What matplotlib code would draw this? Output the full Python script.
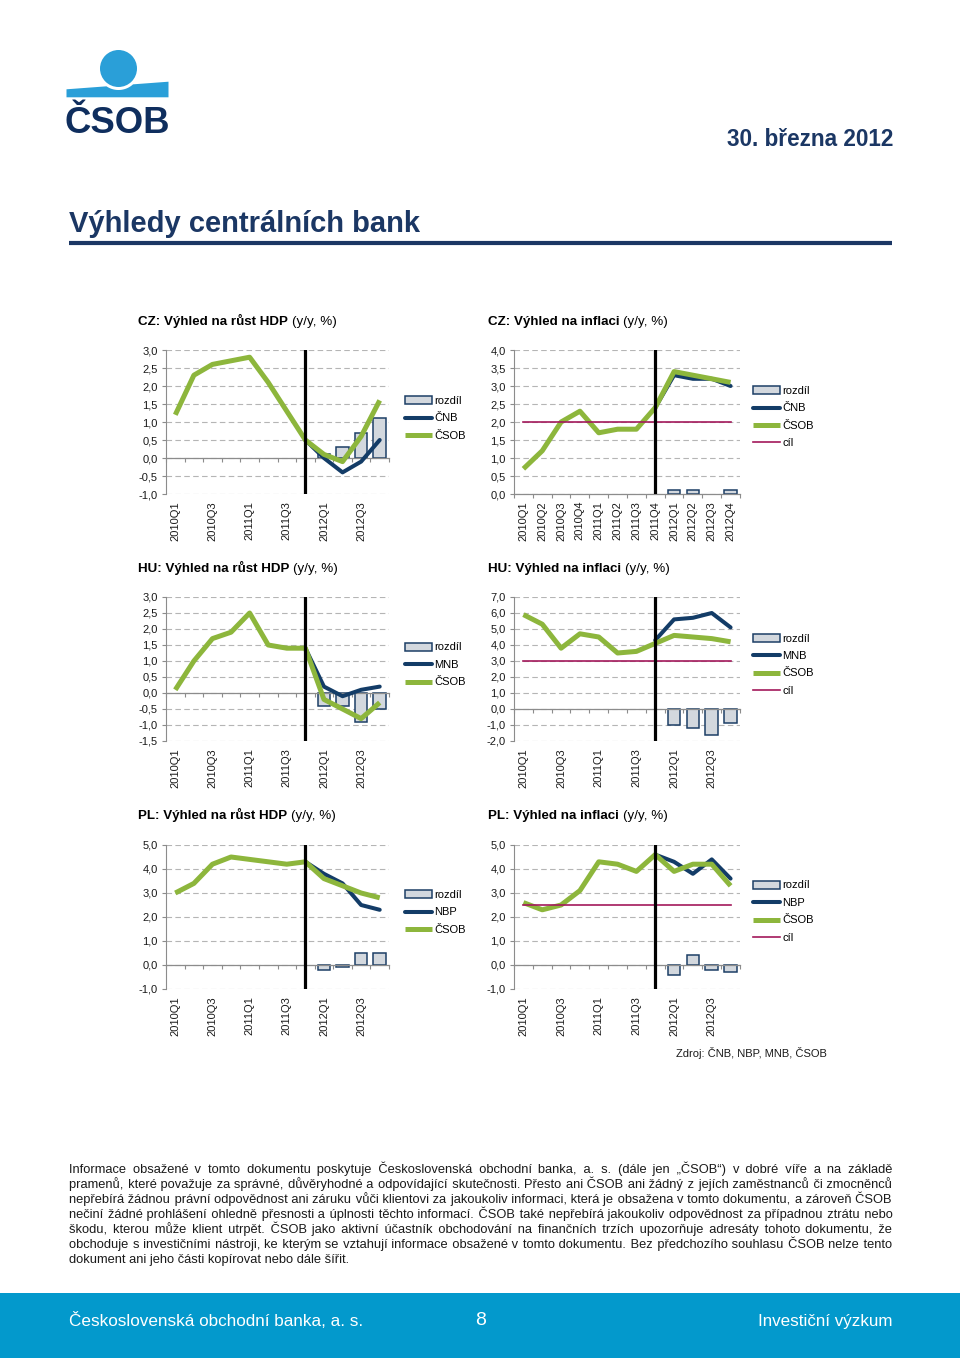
import numpy as np
import matplotlib
matplotlib.use('Agg')
import matplotlib.pyplot as plt
from matplotlib import font_manager as fm
from matplotlib.patches import Rectangle, Circle, Polygon

nan = np.nan
W, H = 960, 1358

# ---------------- data ----------------
quarters = ['2010Q1', '2010Q2', '2010Q3', '2010Q4', '2011Q1', '2011Q2',
            '2011Q3', '2011Q4', '2012Q1', '2012Q2', '2012Q3', '2012Q4']
forecast_start = '2011Q4'

cz_gdp_csob = [1.2, 2.3, 2.6, 2.7, 2.8, 2.1, 1.3, 0.5, 0.1, -0.1, 0.6, 1.6]
cz_gdp_cnb = [nan, nan, nan, nan, nan, nan, nan, 0.5, 0.0, -0.4, -0.1, 0.5]
cz_gdp_diff = [nan, nan, nan, nan, nan, nan, nan, nan, 0.1, 0.3, 0.7, 1.1]

cz_inf_csob = [0.7, 1.2, 2.0, 2.3, 1.7, 1.8, 1.8, 2.4, 3.4, 3.3, 3.2, 3.1]
cz_inf_cnb = [nan, nan, nan, nan, nan, nan, nan, 2.4, 3.3, 3.2, 3.2, 3.0]
cz_inf_diff = [nan, nan, nan, nan, nan, nan, nan, nan, 0.1, 0.1, 0.0, 0.1]
cz_inf_target = 2.0

hu_gdp_csob = [0.1, 1.0, 1.7, 1.9, 2.5, 1.5, 1.4, 1.4, -0.2, -0.5, -0.8, -0.3]
hu_gdp_mnb = [nan, nan, nan, nan, nan, nan, nan, 1.4, 0.2, -0.1, 0.1, 0.2]
hu_gdp_diff = [nan, nan, nan, nan, nan, nan, nan, nan, -0.4, -0.4, -0.9, -0.5]

hu_inf_csob = [5.9, 5.3, 3.8, 4.7, 4.5, 3.5, 3.6, 4.1, 4.6, 4.5, 4.4, 4.2]
hu_inf_mnb = [nan, nan, nan, nan, nan, nan, nan, 4.3, 5.6, 5.7, 6.0, 5.1]
hu_inf_diff = [nan, nan, nan, nan, nan, nan, nan, nan, -1.0, -1.2, -1.6, -0.9]
hu_inf_target = 3.0

pl_gdp_csob = [3.0, 3.4, 4.2, 4.5, 4.4, 4.3, 4.2, 4.3, 3.6, 3.3, 3.0, 2.8]
pl_gdp_nbp = [nan, nan, nan, nan, nan, nan, nan, 4.3, 3.8, 3.4, 2.5, 2.3]
pl_gdp_diff = [nan, nan, nan, nan, nan, nan, nan, nan, -0.2, -0.1, 0.5, 0.5]

pl_inf_csob = [2.6, 2.3, 2.5, 3.1, 4.3, 4.2, 3.9, 4.6, 3.9, 4.2, 4.2, 3.3]
pl_inf_nbp = [nan, nan, nan, nan, nan, nan, nan, 4.6, 4.3, 3.8, 4.4, 3.6]
pl_inf_diff = [nan, nan, nan, nan, nan, nan, nan, nan, -0.4, 0.4, -0.2, -0.3]
pl_inf_target = 2.5

chart_titles = ['CZ: Výhled na růst HDP', 'CZ: Výhled na inflaci',
                'HU: Výhled na růst HDP', 'HU: Výhled na inflaci',
                'PL: Výhled na růst HDP', 'PL: Výhled na inflaci']
title_suffix = '(y/y, %)'
legend_diff = 'rozdíl'
legend_csob = 'ČSOB'
legend_target = 'cíl'

page_date = '30. března 2012'
page_title = 'Výhledy centrálních bank'
source_note = 'Zdroj: ČNB, NBP, MNB, ČSOB'
disclaimer = [
    'Informace obsažené v tomto dokumentu poskytuje Československá obchodní banka, a. s. (dále jen „ČSOB“) v dobré víře a na základě',
    'pramenů, které považuje za správné, důvěryhodné a odpovídající skutečnosti. Přesto ani ČSOB ani žádný z jejích zaměstnanců či zmocněnců',
    'nepřebírá žádnou právní odpovědnost ani záruku vůči klientovi za jakoukoliv informaci, která je obsažena v tomto dokumentu, a zároveň ČSOB',
    'nečiní žádné prohlášení ohledně přesnosti a úplnosti těchto informací. ČSOB také nepřebírá jakoukoliv odpovědnost za případnou ztrátu nebo',
    'škodu, kterou může klient utrpět. ČSOB jako aktivní účastník obchodování na finančních trzích upozorňuje adresáty tohoto dokumentu, že',
    'obchoduje s investičními nástroji, ke kterým se vztahují informace obsažené v tomto dokumentu. Bez předchozího souhlasu ČSOB nelze tento',
    'dokument ani jeho části kopírovat nebo dále šířit.',
]
footer_left = 'Československá obchodní banka, a. s.'
footer_page = '8'
footer_right = 'Investiční výzkum'

# ---------------- style ----------------
GREEN = '#8db63c'
NAVY_LINE = '#133c67'
TARGET_C = '#a3195b'
BAR_FILL = '#d3d8de'
BAR_EDGE = '#1d3f66'
GRID_C = '#b5b5b5'
AXIS_C = '#8c8c8c'
TEXT_C = '#1a1a1a'
NAVY = '#1b3764'
LOGO_BLUE = '#2a9fd8'
LOGO_NAVY = '#0f2e5e'
FOOTER = '#0399cc'

fonts = {f.name for f in fm.fontManager.ttflist}
SANS = 'Liberation Sans' if 'Liberation Sans' in fonts else 'DejaVu Sans'
NARROW = 'Liberation Sans Narrow' if 'Liberation Sans Narrow' in fonts else SANS
plt.rcParams['font.family'] = [SANS, 'DejaVu Sans']

fig = plt.figure(figsize=(W / 100, H / 100), dpi=100)
page = fig.add_axes([0, 0, 1, 1])
page.set_xlim(0, W)
page.set_ylim(H, 0)
page.axis('off')
r = fig.canvas.get_renderer()


def text_width(s, **kw):
    t = page.text(0, 0, s, **kw)
    w = t.get_window_extent(renderer=r).width
    t.remove()
    return w


def fit_text(x, y, s, width, size0=12, **kw):
    w = text_width(s, fontsize=size0, **{k: v for k, v in kw.items() if k not in ('ha', 'va')})
    return page.text(x, y, s, fontsize=size0 * width / w, **kw)


# ---------------- header ----------------
page.add_patch(Circle((118.5, 68.5), 18.5, color=LOGO_BLUE, lw=0))
xs = np.linspace(66.5, 168.5, 300)
top_line = 89.3 - 7.6 * (xs - 66.5) / 102
dx = xs - 118.5
arc = np.where(np.abs(dx) < 21.5, 68.5 + np.sqrt(np.clip(21.5 ** 2 - dx ** 2, 0, None)), -1e9)
band_top = np.maximum(top_line, arc)
page.add_patch(Polygon(list(zip(xs, band_top)) + [(168.5, 97.3), (66.5, 97.3)],
                       closed=True, color=LOGO_BLUE, lw=0))
fit_text(65, 133, 'ČSOB', 105, weight='bold', color=LOGO_NAVY, va='baseline', ha='left')

fit_text(893, 146, page_date, 166, family=[NARROW, 'DejaVu Sans'], weight='bold',
         color=NAVY, ha='right', va='baseline')
fit_text(69, 232, page_title, 350, family=[NARROW, 'DejaVu Sans'], weight='bold',
         color=NAVY, ha='left', va='baseline')
page.plot([69, 892], [243, 243], color=NAVY, lw=3, solid_capstyle='butt')

# ---------------- charts ----------------
x = np.arange(len(quarters))
fs_idx = quarters.index(forecast_start)

charts = [
    dict(box=(166, 350, 389, 494), ylim=(-1, 3), step=0.5, csob=cz_gdp_csob, cb=cz_gdp_cnb,
         diff=cz_gdp_diff, cb_name='ČNB', target=None, every=2, title=(138, 325), leg=(405, 396)),
    dict(box=(514, 350, 740, 494), ylim=(0, 4), step=0.5, csob=cz_inf_csob, cb=cz_inf_cnb,
         diff=cz_inf_diff, cb_name='ČNB', target=cz_inf_target, every=1, title=(488, 325), leg=(753, 386)),
    dict(box=(166, 597, 389, 741), ylim=(-1.5, 3), step=0.5, csob=hu_gdp_csob, cb=hu_gdp_mnb,
         diff=hu_gdp_diff, cb_name='MNB', target=None, every=2, title=(138, 572), leg=(405, 642.5)),
    dict(box=(514, 597, 740, 741), ylim=(-2, 7), step=1.0, csob=hu_inf_csob, cb=hu_inf_mnb,
         diff=hu_inf_diff, cb_name='MNB', target=hu_inf_target, every=2, title=(488, 572), leg=(753, 633.5)),
    dict(box=(166, 845, 389, 989), ylim=(-1, 5), step=1.0, csob=pl_gdp_csob, cb=pl_gdp_nbp,
         diff=pl_gdp_diff, cb_name='NBP', target=None, every=2, title=(138, 819), leg=(405, 890)),
    dict(box=(514, 845, 740, 989), ylim=(-1, 5), step=1.0, csob=pl_inf_csob, cb=pl_inf_nbp,
         diff=pl_inf_diff, cb_name='NBP', target=pl_inf_target, every=2, title=(488, 819), leg=(753, 880.5)),
]

TITLE_FS = 9.6
for c, title in zip(charts, chart_titles):
    l, t, rr, b = c['box']
    ax = fig.add_axes([l / W, 1 - b / H, (rr - l) / W, (b - t) / H])
    ax.set_xlim(-0.5, len(quarters) - 0.5)
    ax.set_ylim(*c['ylim'])
    yt = np.arange(c['ylim'][0], c['ylim'][1] + c['step'] / 2, c['step'])
    ax.set_yticks(yt, [f'{v:.1f}'.replace('.', ',') for v in yt])
    ax.set_axisbelow(True)
    ax.yaxis.grid(True, color=GRID_C, lw=0.8, linestyle=(0, (5, 3)))
    for s in ('top', 'right'):
        ax.spines[s].set_visible(False)
    ax.spines['left'].set_color(AXIS_C)
    ax.spines['left'].set_linewidth(0.8)
    ax.spines['bottom'].set_position(('data', 0))
    ax.spines['bottom'].set_color(AXIS_C)
    ax.spines['bottom'].set_linewidth(0.9)
    ax.set_xticks(np.arange(-0.5, len(quarters), 1.0))
    ax.tick_params(axis='x', length=3, color=AXIS_C, width=0.8, labelbottom=False)
    ax.tick_params(axis='y', length=3, color=AXIS_C, width=0.8, labelsize=8, pad=3,
                   labelcolor=TEXT_C)
    sec = ax.secondary_xaxis(0)
    sec.set_xticks(x[::c['every']], [quarters[i] for i in x[::c['every']]])
    sec.tick_params(axis='x', length=0, pad=5, labelsize=8, labelrotation=90, labelcolor=TEXT_C)
    sec.spines['bottom'].set_visible(False)

    diff = np.array(c['diff'], dtype=float)
    m = ~np.isnan(diff) & (diff != 0)
    bars = ax.bar(x[m], diff[m], width=0.68, color=BAR_FILL, edgecolor=BAR_EDGE, lw=1.1,
                  zorder=2, label=legend_diff)
    l_cb, = ax.plot(x, c['cb'], color=NAVY_LINE, lw=2.9, zorder=3, solid_joinstyle='round',
                    solid_capstyle='round', label=c['cb_name'])
    l_cs, = ax.plot(x, c['csob'], color=GREEN, lw=3.6, zorder=4, solid_joinstyle='round',
                    solid_capstyle='butt', label=legend_csob)
    handles = [bars, l_cb, l_cs]
    if c['target'] is not None:
        l_t, = ax.plot(x[[0, -1]], [c['target'], c['target']], color=TARGET_C, lw=1.2,
                       zorder=5, label=legend_target)
        handles.append(l_t)
    ax.axvline(x[fs_idx], color='black', lw=2.3, zorder=6)

    lx, ly = c['leg']
    ax.legend(handles=handles, loc='upper left', bbox_to_anchor=(lx / W, 1 - ly / H),
              bbox_transform=fig.transFigure, frameon=False, fontsize=8, handlelength=2.45,
              handletextpad=0.2, labelspacing=0.67, borderpad=0, borderaxespad=0,
              handleheight=0.7)

    tx, ty = c['title']
    page.text(tx, ty, title, fontsize=TITLE_FS, weight='bold', color='black', va='baseline')
    wb = text_width(title, fontsize=TITLE_FS, weight='bold')
    page.text(tx + wb + 0.28 * TITLE_FS * 100 / 72, ty, title_suffix, fontsize=TITLE_FS,
              color='black', va='baseline')

page.text(827, 1053, source_note, ha='right', va='center', fontsize=8, color=TEXT_C)

# ---------------- disclaimer (justified with hair spaces) ----------------
X0, X1 = 69, 892
TW = X1 - X0
DFAM = [NARROW, 'DejaVu Sans']
HAIR = '\u200a'
widths = [text_width(s, fontsize=9, family=DFAM) for s in disclaimer[:-1]]
dfs = min(9 * min(TW * 0.995 / w for w in widths), 9.5)
kw = dict(fontsize=dfs, family=DFAM)
hair_w = (text_width('a' + HAIR * 20 + 'a', **kw) - text_width('aa', **kw)) / 20
if hair_w <= 0.05:
    hair_w = None


def build(words, extra):
    s = words[0]
    used = 0
    for j, wd in enumerate(words[1:], 1):
        want = int(round(extra * j / hair_w))
        k = max(want - used, 0)
        used += k
        s += ' ' + HAIR * k + wd
    return s


y0, dy = 1173.5, 14.85
for i, line in enumerate(disclaimer):
    yy = y0 + i * dy
    words = line.split(' ')
    if i == len(disclaimer) - 1 or hair_w is None:
        page.text(X0, yy, line, color=TEXT_C, va='baseline', **kw)
        continue
    nat = text_width(line, **kw)
    extra = (TW - nat) / (len(words) - 1)
    s = build(words, extra)
    for _ in range(2):
        wnow = text_width(s, **kw)
        extra += (TW - wnow) / (len(words) - 1)
        s = build(words, extra)
    page.text(X0, yy, s, color=TEXT_C, va='baseline', **kw)

# ---------------- footer ----------------
page.add_patch(Rectangle((0, 1293), W, H - 1293, color=FOOTER, lw=0))
fit_text(69, 1326, footer_left, 294, family=DFAM, color='white', ha='left', va='baseline')
page.text(481, 1325, footer_page, fontsize=14, family=DFAM, color='white', ha='center',
          va='baseline')
fit_text(892, 1326, footer_right, 134, family=DFAM, color='white', ha='right', va='baseline')

fig.savefig('out.png', dpi=100)
